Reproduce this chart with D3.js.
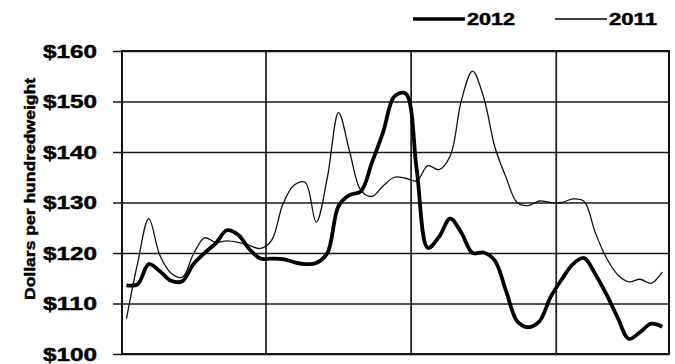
<!DOCTYPE html>
<html>
<head>
<meta charset="utf-8">
<script src="https://cdn.jsdelivr.net/npm/d3@7"></script>
<style>
  html, body { margin: 0; padding: 0; background: #fff; }
  svg { display: block; }
  text { font-family: "Liberation Sans", Arial, sans-serif; font-weight: bold; fill: #000; stroke: #000; stroke-width: 0.45px; }
</style>
</head>
<body>
<script>
// ---- data ----
const weeks = d3.range(1, 50);
const series2012 = [
  113.6, 113.8, 117.8, 116.4, 114.5, 114.4, 117.8, 120.0, 121.9, 124.5,
  123.6, 120.8, 118.9, 118.9, 118.8, 118.2, 117.8, 118.0, 120.0, 129.3,
  131.5, 132.2, 138.0, 144.0, 151.0, 151.6, 136.5, 121.0, 123.2, 126.8,
  124.0, 120.0, 120.1, 118.5, 112.5, 106.5, 105.3, 106.5, 111.3, 114.8,
  117.8, 119.0, 115.8, 111.8, 107.2, 103.0, 104.3, 106.0, 105.4
];
const series2011 = [
  107.0, 118.0, 126.8, 119.5, 116.0, 115.2, 119.8, 123.0, 122.1, 122.4,
  122.1, 121.5, 120.9, 122.5, 129.6, 133.4, 134.0, 126.1, 135.0, 147.8,
  140.0, 132.4, 131.2, 133.3, 135.0, 134.8, 134.3, 137.3, 136.5, 139.2,
  150.2, 156.0, 150.8, 141.0, 135.0, 130.0, 129.4, 130.3, 130.0, 130.0,
  130.7, 130.2, 124.0, 119.0, 115.7, 114.3, 114.8, 114.0, 116.2
];
const yTicks = [100, 110, 120, 130, 140, 150, 160];
const quarterBreaks = [13.5, 26.5, 39.5];
const seriesNames = ["2012", "2011"];
const yTitle = "Dollars per hundredweight";

// ---- layout ----
const W = 675, H = 364;
const m = { left: 122, right: 6, top: 51, bottom: 10 };

const svg = d3.select("body").append("svg").attr("width", W).attr("height", H);

const x = d3.scaleLinear().domain([0.6, 49.6]).range([m.left, W - m.right]);
const y = d3.scaleLinear().domain([100, 160]).range([H - m.bottom, m.top]);

// horizontal grid + y axis
const yAxis = d3.axisLeft(y).tickValues(yTicks)
  .tickSize(-(W - m.right - m.left))
  .tickFormat(d => "$" + d);
const ga = svg.append("g").attr("transform", `translate(${m.left},0)`).call(yAxis);
ga.select(".domain").remove();
ga.selectAll(".tick line").attr("stroke", "#1a1a1a").attr("stroke-width", 1.7).attr("x1", -9);
ga.selectAll(".tick text")
  .attr("x", -25)
  .attr("dy", "0.36em")
  .attr("fill", "#000")
  .style("font-size", "18px")
  .attr("textLength", 54)
  .attr("lengthAdjust", "spacingAndGlyphs");

// vertical grid
svg.append("g").selectAll("line").data(quarterBreaks).join("line")
  .attr("x1", d => x(d)).attr("x2", d => x(d))
  .attr("y1", y(160)).attr("y2", y(100))
  .attr("stroke", "#1a1a1a").attr("stroke-width", 1.7);

// frame
svg.append("rect")
  .attr("x", m.left).attr("y", m.top)
  .attr("width", W - m.right - m.left).attr("height", y(100) - y(160))
  .attr("fill", "none").attr("stroke", "#111").attr("stroke-width", 2);

// lines
const line = d3.line()
  .x((d, i) => x(weeks[i]))
  .y(d => y(d))
  .curve(d3.curveCatmullRom.alpha(0.5));

svg.append("path").datum(series2011)
  .attr("d", line).attr("fill", "none")
  .attr("stroke", "#111").attr("stroke-width", 1.3);
svg.append("path").datum(series2012)
  .attr("d", line).attr("fill", "none")
  .attr("stroke", "#000").attr("stroke-width", 3.8).attr("stroke-linejoin", "round");

// y title
svg.append("text")
  .attr("transform", `translate(35,189) rotate(-90)`)
  .attr("text-anchor", "middle")
  .style("font-size", "14px")
  .attr("textLength", 222)
  .attr("lengthAdjust", "spacingAndGlyphs")
  .text(yTitle);

// legend
const legend = [
  { name: seriesNames[0], x1: 413, x2: 465, w: 3.6 },
  { name: seriesNames[1], x1: 555, x2: 607, w: 1.4 }
];
const lg = svg.append("g");
legend.forEach(l => {
  lg.append("line").attr("x1", l.x1).attr("x2", l.x2).attr("y1", 19).attr("y2", 19)
    .attr("stroke", "#000").attr("stroke-width", l.w);
  lg.append("text").attr("x", l.x2 + 2).attr("y", 25)
    .style("font-size", "16px")
    .attr("textLength", 48)
    .attr("lengthAdjust", "spacingAndGlyphs")
    .text(l.name);
});
</script>
</body>
</html>
